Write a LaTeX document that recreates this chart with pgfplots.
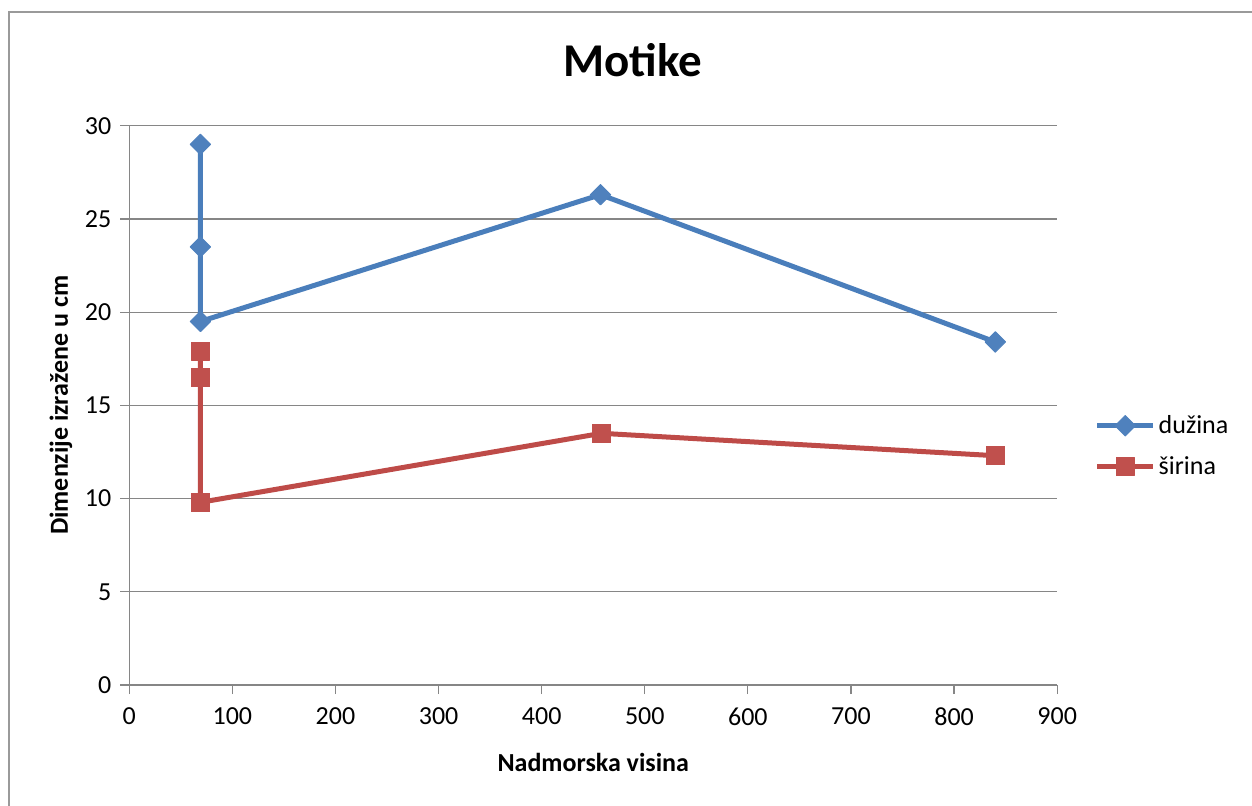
\documentclass[border=0pt]{standalone}
\usepackage{pgfplots}
\pgfplotsset{compat=1.18}
\usepackage{fontspec}
\setmainfont{Carlito}
\definecolor{blueS}{HTML}{4A7EBB}
\definecolor{blueM}{HTML}{4F81BD}
\definecolor{redS}{HTML}{BE4B48}
\definecolor{redM}{HTML}{C0504D}
\definecolor{gridc}{HTML}{868686}
\definecolor{framec}{HTML}{9A9A9A}
\begin{document}
\begin{tikzpicture}
\path[use as bounding box] (0pt,0pt) rectangle (626pt,402.5pt);
\begin{scope}
\clip (0pt,0pt) rectangle (626pt,402.5pt);
\draw[framec, line width=0.9pt] (4.5pt,-10pt) rectangle (640pt,396.5pt);
\end{scope}
\begin{axis}[
  at={(64.65pt,60pt)}, anchor=south west,
  width=463.95pt, height=279.65pt, scale only axis,
  xmin=0, xmax=900, ymin=0, ymax=30,
  xtick={0,100,...,900}, ytick={0,5,...,30},
  axis x line*=bottom, axis y line*=left,
  axis line style={gridc, line width=0.6pt, -},
  ymajorgrids, major grid style={gridc, line width=0.6pt},
  tick style={gridc, line width=0.6pt},
  tick align=outside, major tick length=4.5pt,
  /pgf/number format/assume math mode=true,
  ticklabel style={font=\fontsize{13}{15}\selectfont, text=black},
  yticklabel style={xshift=-1pt},
  xticklabel style={yshift=-3.5pt},
  title={\bfseries Motike},
  title style={font=\fontsize{23.5}{28}\selectfont, at={(axis description cs:0.5428,1.096)}, anchor=center},
  xlabel={\bfseries Nadmorska visina},
  ylabel={\bfseries Dimenzije izražene u cm},
  label style={font=\fontsize{13}{15}\selectfont},
  xlabel style={at={(axis description cs:0.5,-0.1377)}, anchor=center},
  ylabel style={at={(axis description cs:-0.0737,0.5)}, anchor=center},
  legend style={at={(axis description cs:1.04,0.427)}, anchor=west, draw=none, fill=none,
    font=\fontsize{13}{15}\selectfont, row sep=7pt, inner sep=0pt,
    nodes={inner sep=1.5pt}},
  legend cell align=left,
  legend image code/.code={\draw[mark repeat=2,mark phase=2] plot coordinates {(0pt,0pt) (14pt,0pt) (28pt,0pt)};},
  clip=false,
]
\addplot[blueS, line width=2.5pt, line join=round, mark=square*,
  mark size=3.6pt, mark options={rotate=45, solid, line width=0.5pt, fill=blueM, draw=blueM}]
  coordinates {(69,29.0) (69,23.5) (69,19.5) (457,26.3) (840,18.4)};
\addlegendentry{dužina}
\addplot[redS, line width=2.5pt, line join=round, mark=square*,
  mark size=4.6pt, mark options={solid, line width=0.5pt, fill=redM, draw=redM}]
  coordinates {(69,17.9) (69,16.5) (69,9.8) (458,13.5) (840,12.3)};
\addlegendentry{širina}
\end{axis}
\end{tikzpicture}
\end{document}
